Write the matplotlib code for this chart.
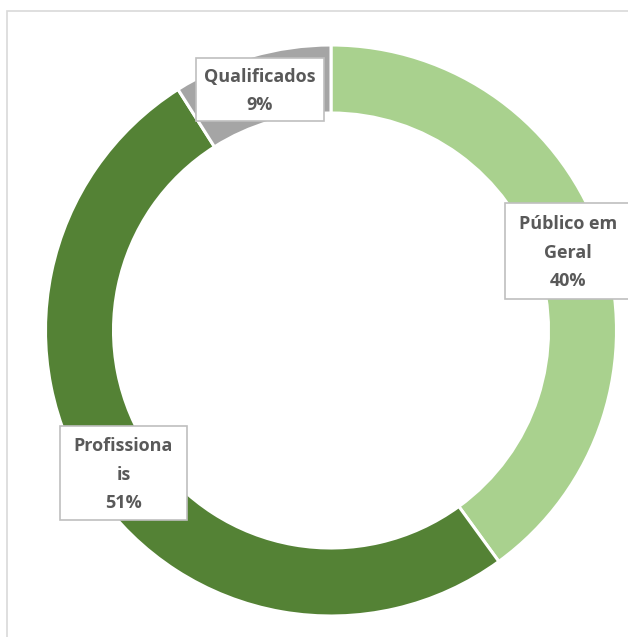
import matplotlib
matplotlib.use("Agg")
import matplotlib.pyplot as plt
import matplotlib.patches as patches

plt.rcParams['font.family'] = ['Open Sans', 'DejaVu Sans']

# data
labels = ['Público em\nGeral', 'Profissiona\nis', 'Qualificados']
values = [40, 51, 9]
colors = ['#A9D18E', '#548235', '#A5A5A5']

W, H = 628, 637
fig = plt.figure(figsize=(W / 100, H / 100), dpi=100)
ax = fig.add_axes([0, 0, 1, 1])

cx, cy, r = 331, H - 330.5, 285.5
ax.pie(values, colors=colors, startangle=90, counterclock=False,
       radius=r, center=(cx, cy),
       wedgeprops=dict(width=68, edgecolor='white', linewidth=2.2))

# pie() resets the limits, so set them afterwards
ax.set_xlim(0, W)
ax.set_ylim(0, H)
ax.set_aspect('equal')
ax.axis('off')

# outer frame of the chart area
ax.add_patch(patches.Rectangle((6.5, -20), W + 20, H - 10.5 + 20, fill=False,
                               edgecolor='#D9D9D9', linewidth=1.2))

# label boxes (left, top, right, bottom in pixels from top-left)
boxes = [(505, 203, 640, 299), (60, 426, 187, 520), (196, 58, 324, 121)]
total = sum(values)
for lab, v, (x0, y0, x1, y1) in zip(labels, values, boxes):
    ax.add_patch(patches.Rectangle((x0, H - y1), x1 - x0, y1 - y0,
                                   facecolor='white', edgecolor='#BFBFBF',
                                   linewidth=1.2, zorder=5))
    tx = (x0 + x1) / 2 if x1 <= W else x0 + 63
    ax.text(tx, H - (y0 + y1) / 2 - 1.5,
            f'{lab}\n{round(100 * v / total)}%', ha='center', va='center',
            fontsize=13, fontweight='bold', color='#595959',
            linespacing=1.78, zorder=6)

fig.savefig('out.png', dpi=100)
